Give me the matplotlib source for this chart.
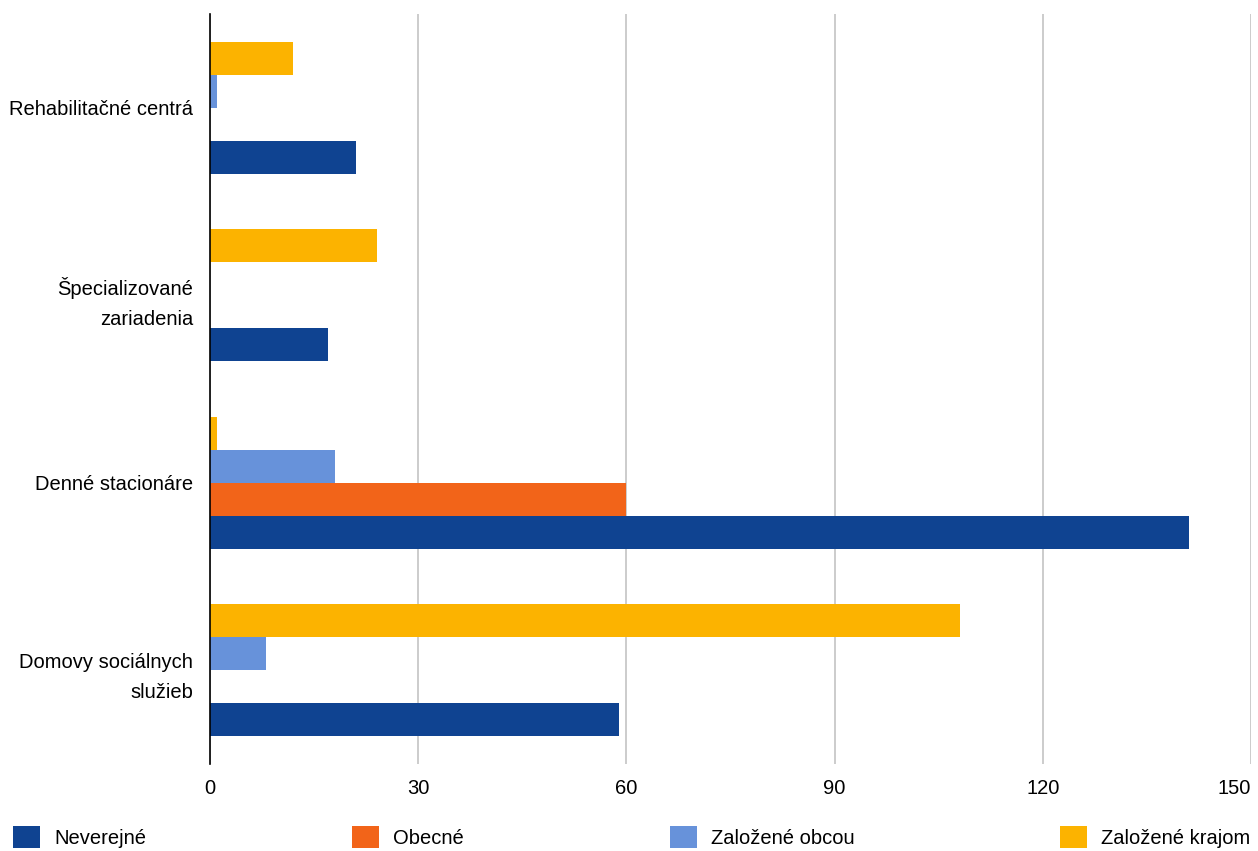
import numpy as np
import matplotlib.pyplot as plt

plt.rcParams['font.family'] = ['Liberation Sans', 'DejaVu Sans']

# kategórie (zhora nadol) a hodnoty sérií
categories = ["Rehabilitačné centrá", "Špecializované\nzariadenia",
              "Denné stacionáre", "Domovy sociálnych\nslužieb"]
neverejne = [21, 17, 141, 59]
obecne = [0, 0, 60, 0]
zalozene_obcou = [1, 0, 18, 8]
zalozene_krajom = [12, 24, 1, 108]

series = [
    ("Neverejné", neverejne, "#0F4391"),
    ("Obecné", obecne, "#F26419"),
    ("Založené obcou", zalozene_obcou, "#6792DA"),
    ("Založené krajom", zalozene_krajom, "#FCB300"),
]

fs = 14.5

fig = plt.figure(figsize=(12.58, 8.51), dpi=100)
ax = fig.add_axes([210 / 1258, 87 / 851, (1251 - 210) / 1258, 750 / 851])

y = np.arange(len(categories))[::-1]  # prvá kategória hore
h = 0.176
offsets = [-1.5 * h, -0.5 * h, 0.5 * h, 1.5 * h]

handles = []
for (name, vals, col), off in zip(series, offsets):
    b = ax.barh(y + off, vals, height=h, color=col, label=name, zorder=3)
    handles.append(b)

ax.set_xlim(0, 150)
ax.set_ylim(-0.5, 3.5)
ax.set_xticks([0, 30, 60, 90, 120, 150])
ax.set_yticks(y)
ax.set_yticklabels(categories, fontsize=fs, ha='right', multialignment='right',
                   linespacing=1.75)
ax.tick_params(axis='both', length=0, labelsize=fs)
ax.tick_params(axis='x', pad=11)
ax.tick_params(axis='y', pad=12)
ax.get_xticklabels()[-1].set_ha('right')

ax.grid(axis='x', color='#c4c4c4', linewidth=1.2, zorder=0)
for s in ['top', 'right', 'bottom']:
    ax.spines[s].set_visible(False)
ax.spines['left'].set_color('black')
ax.spines['left'].set_linewidth(1.2)
ax.spines['left'].set_zorder(4)

fig.legend(handles=handles, loc='lower left', bbox_to_anchor=(0.0095, 0.002, 0.9855, 0.04),
           ncol=4, mode='expand', frameon=False, fontsize=fs,
           handlelength=1.35, handleheight=1.35, handletextpad=0.7, borderaxespad=0,
           borderpad=0.05)

fig.savefig("out.png", dpi=100)
